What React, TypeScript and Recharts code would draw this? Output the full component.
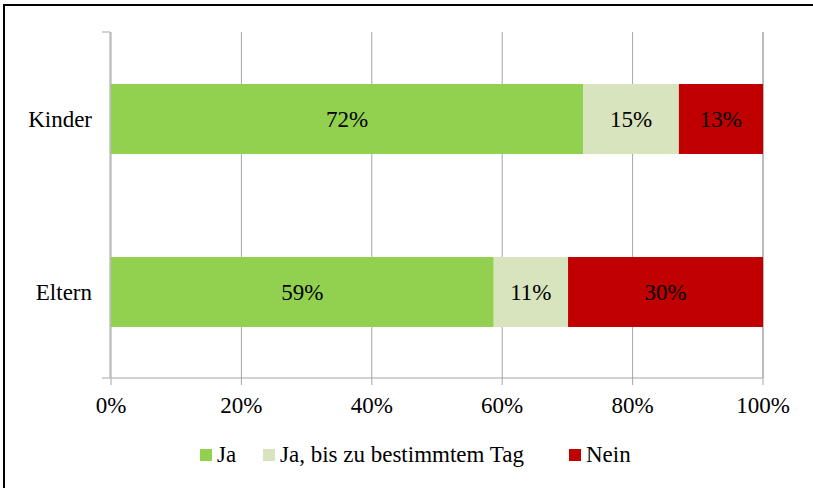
import { BarChart, Bar, XAxis, YAxis, CartesianGrid, Legend, LabelList } from 'recharts';

const categories = ['Kinder', 'Eltern'];
const ja = [72.4, 58.7];
const jaBis = [14.7, 11.4];
const nein = [12.9, 29.9];
const xTicks = [0, 20, 40, 60, 80, 100];

const series = [
    { key: 'ja', name: 'Ja', color: '#92D050' },
    { key: 'jaBis', name: 'Ja, bis zu bestimmtem Tag', color: '#D7E4BD' },
    { key: 'nein', name: 'Nein', color: '#C00000' },
];

const data = categories.map((name, i) => ({
    name,
    ja: ja[i],
    jaBis: jaBis[i],
    nein: nein[i],
}));

const FONT = "'Liberation Serif', 'Times New Roman', serif";
const GRID = '#A6A6A6';
// legend item widths, so the swatches sit where the original has them
const legendItemWidths = [63, 306, 90];

function LegendBox() {
    return (
        <div
            style={{
                display: 'flex',
                justifyContent: 'flex-start',
                alignItems: 'center',
                paddingLeft: 200,
                fontFamily: FONT,
                fontSize: 23,
                color: '#000',
            }}
        >
            {series.map((s, i) => (
                <div key={s.key} style={{ display: 'flex', alignItems: 'center', width: legendItemWidths[i] }}>
                    <span style={{ width: 12, height: 12, background: s.color, display: 'inline-block', marginRight: 5, flexShrink: 0 }} />
                    <span style={{ whiteSpace: 'nowrap' }}>{s.name}</span>
                </div>
            ))}
        </div>
    );
}

export default function App() {
    return (
        <div style={{ position: 'absolute', left: 0, top: 0, width: 813, height: 488, background: '#fff', overflow: 'hidden', fontFamily: FONT }}>
            <div
                style={{
                    position: 'absolute',
                    left: 3,
                    top: 4,
                    width: 830,
                    height: 500,
                    borderLeft: '2.5px solid #000',
                    borderTop: '2.5px solid #000',
                    boxSizing: 'border-box',
                }}
            />
            <div style={{ position: 'absolute', left: 0, top: 0 }}>
                <BarChart
                    width={813}
                    height={488}
                    data={data}
                    layout="vertical"
                    margin={{ top: 32, right: 50, bottom: 16, left: 109 }}
                    barSize={70}
                    style={{ fontFamily: FONT }}
                >
                    <CartesianGrid horizontal={false} stroke={GRID} />
                    <XAxis
                        type="number"
                        domain={[0, 100]}
                        ticks={xTicks}
                        tickFormatter={v => `${v}%`}
                        stroke={GRID}
                        tickSize={7}
                        tickMargin={12}
                        height={64}
                        tick={{ fill: '#000', fontSize: 23, fontFamily: FONT }}
                        interval={0}
                    />
                    <YAxis
                        yAxisId="n"
                        type="number"
                        domain={[0, 2]}
                        ticks={[0, 1, 2]}
                        width={1}
                        stroke={GRID}
                        tickSize={8}
                        tickFormatter={() => ''}
                    />
                    <YAxis
                        yAxisId="c"
                        type="category"
                        dataKey="name"
                        width={1}
                        axisLine={false}
                        tickLine={false}
                        tickSize={0}
                        tickMargin={19}
                        tick={{ fill: '#000', fontSize: 23, fontFamily: FONT }}
                    />
                    <Legend
                        verticalAlign="bottom"
                        height={30}
                        wrapperStyle={{ left: 0, width: 813 }}
                        content={() => <LegendBox />}
                    />
                    {series.map(s => (
                        <Bar
                            key={s.key}
                            yAxisId="c"
                            dataKey={s.key}
                            name={s.name}
                            stackId="a"
                            fill={s.color}
                            isAnimationActive={false}
                        >
                            <LabelList
                                dataKey={s.key}
                                position="center"
                                formatter={(v: number) => `${Math.round(v)}%`}
                                fill="#000"
                                fontSize={23}
                                fontFamily={FONT}
                            />
                        </Bar>
                    ))}
                </BarChart>
            </div>
        </div>
    );
}
